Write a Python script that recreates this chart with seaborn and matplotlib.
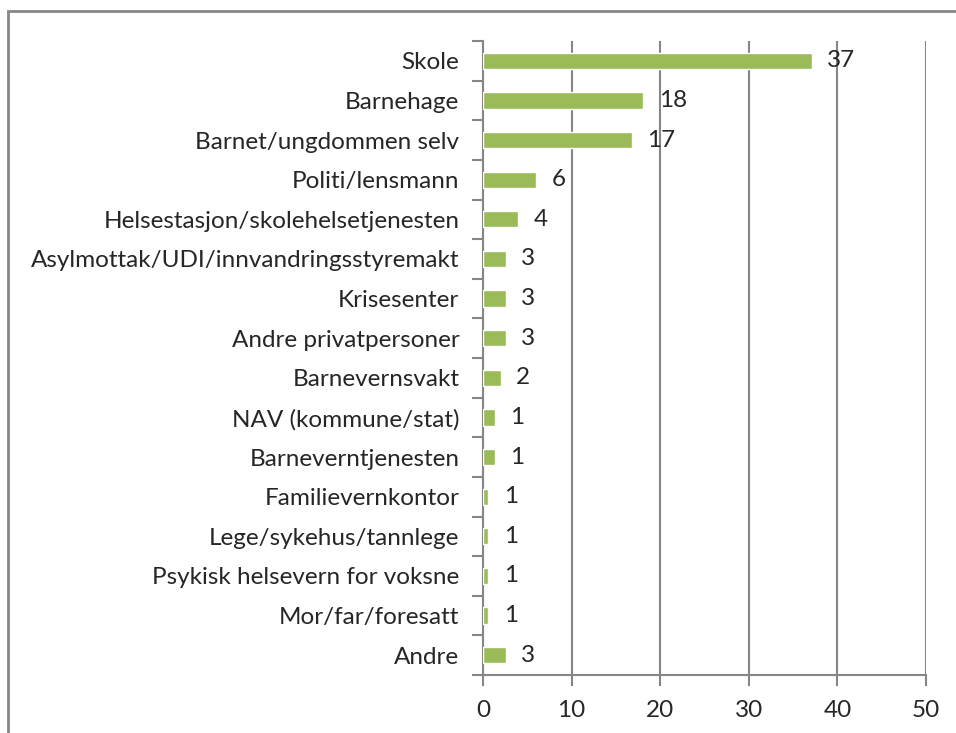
import matplotlib
matplotlib.use("Agg")
import matplotlib.pyplot as plt
import seaborn as sns
import pandas as pd
from matplotlib.patches import Rectangle

# kategorier og verdier (lest av figuren)
kategorier = [
    "Skole", "Barnehage", "Barnet/ungdommen selv", "Politi/lensmann",
    "Helsestasjon/skolehelsetjenesten", "Asylmottak/UDI/innvandringsstyremakt",
    "Krisesenter", "Andre privatpersoner", "Barnevernsvakt",
    "NAV (kommune/stat)", "Barneverntjenesten", "Familievernkontor",
    "Lege/sykehus/tannlege", "Psykisk helsevern for voksne",
    "Mor/far/foresatt", "Andre",
]
verdier = [37.1, 18.1, 16.8, 6.0, 4.0, 2.6, 2.6, 2.6, 2.0,
           1.3, 1.3, 0.6, 0.6, 0.6, 0.6, 2.6]
x_ticks = [0, 10, 20, 30, 40, 50]

df = pd.DataFrame({"kategori": kategorier, "verdi": verdier})

sns.set_style("white")
plt.rcParams["font.family"] = ["Lato", "DejaVu Sans"]

grey = "#868686"
fig = plt.figure(figsize=(9.56, 7.33), dpi=100)
ax = fig.add_axes([483 / 956, 1 - 675 / 733, (926 - 483) / 956, (675 - 41) / 733])

sns.barplot(data=df, x="verdi", y="kategori", orient="h", color="#9BBB59",
            saturation=1, width=0.41, ax=ax, zorder=3)

ax.set_xlim(0, 50)
ax.set_xticks(x_ticks)
ax.set_ylim(len(kategorier) - 0.5, -0.5)
ax.set_xlabel("")
ax.set_ylabel("")

# rutenett
ax.grid(axis="x", color=grey, linewidth=1.5, zorder=0)
ax.grid(axis="y", visible=False)

for s in ["top", "right"]:
    ax.spines[s].set_visible(False)
for s in ["left", "bottom"]:
    ax.spines[s].set_color(grey)
    ax.spines[s].set_linewidth(1.5)

# tick-merker mellom kategoriene
ax.set_yticks(range(len(kategorier)))
ax.set_yticks([i - 0.5 for i in range(len(kategorier) + 1)], minor=True)
ax.tick_params(axis="y", which="major", length=0, labelsize=17.5, pad=17)
ax.tick_params(axis="y", which="minor", length=8, width=1.5, color=grey)
ax.tick_params(axis="x", which="major", length=8, width=1.5, color=grey,
               labelsize=17.5, pad=10, direction="out")
ax.xaxis.set_ticks_position("bottom")
ax.yaxis.set_ticks_position("left")

ax.bar_label(ax.containers[0], fmt="%.0f", padding=11, fontsize=17.5, zorder=4)

# ramme rundt diagrammet
fig.patches.append(Rectangle((8 / 956, -0.1), 1.2, 1 - 11 / 733 + 0.1,
                             transform=fig.transFigure, fill=False,
                             edgecolor=grey, linewidth=2))

fig.savefig("out.png", dpi=100)
